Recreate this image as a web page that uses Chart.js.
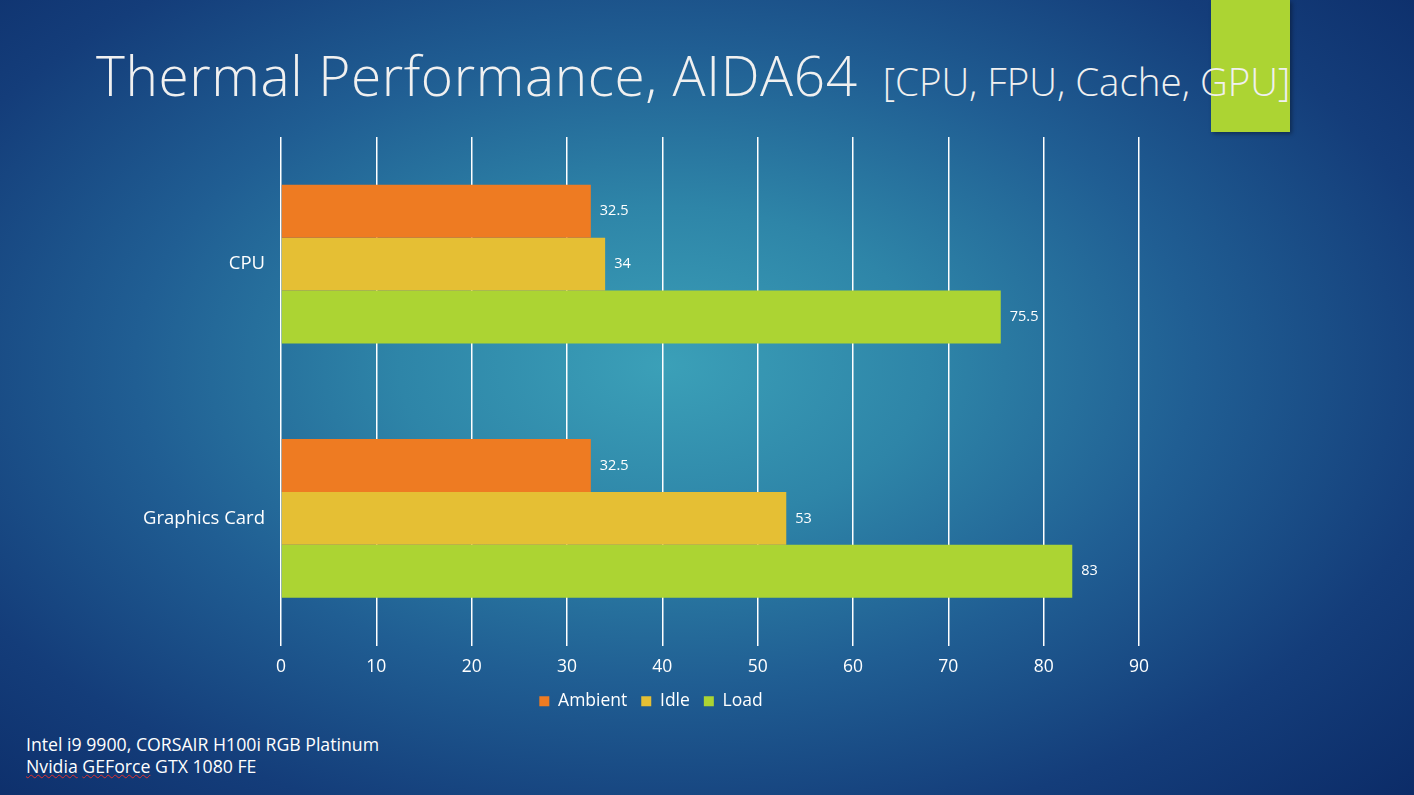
<!DOCTYPE html>
<html>
<head>
<meta charset="utf-8">
<script src="https://cdn.jsdelivr.net/npm/chart.js@4"></script>
<style>
  html, body { margin:0; padding:0; width:1414px; height:795px; overflow:hidden; }
  body {
    position:relative;
    font-family:"Open Sans", "DejaVu Sans", sans-serif;
    background: radial-gradient(ellipse 75% 80% at 47% 46%, #3ba0b8 0%, #2e85a8 25%, #205e93 50%, #143d7a 75%, #0b2a66 100%);
  }
  #accent { position:absolute; left:1211px; top:0; width:79px; height:132px; background:#acd433; box-shadow:2px 2px 4px rgba(0,0,0,0.35); }
  #title { position:absolute; left:96px; top:37px; color:#f0f0f0; white-space:nowrap; font-weight:300; }
  #title .big { font-size:55px; letter-spacing:0.6px; }
  #title .small { font-size:38.5px; margin-left:25px; }
  #note { position:absolute; left:26px; top:733px; color:#ffffff; font-size:17.7px; line-height:22px; }
  .sp { text-decoration: underline wavy #e03030; text-decoration-thickness:1px; }
  #wrap { position:absolute; left:0; top:0; width:1302px; height:795px; }
</style>
</head>
<body>
<div id="accent"></div>
<div id="title"><span class="big">Thermal Performance, AIDA64</span><span class="small">[CPU, FPU, Cache, GPU]</span></div>
<div id="note">Intel i9 9900, CORSAIR H100i RGB Platinum<br><span class="sp">Nvidia</span> <span class="sp">GEForce</span> GTX 1080 FE</div>
<div id="wrap"><canvas id="c" width="1302" height="795"></canvas></div>
<script>
const categories = ["CPU", "Graphics Card"];
const ambient = [32.5, 32.5];
const idle = [34, 53];
const load = [75.5, 83];
const seriesNames = ["Ambient", "Idle", "Load"];
const colors = ["#ee7b22", "#e5bf34", "#acd433"];

const valueLabels = {
  id: "valueLabels",
  afterDatasetsDraw(chart) {
    const ctx = chart.ctx;
    ctx.save();
    ctx.fillStyle = "#ffffff";
    ctx.font = '14.5px "Open Sans", sans-serif';
    ctx.textBaseline = "middle";
    ctx.textAlign = "left";
    chart.data.datasets.forEach((ds, i) => {
      const meta = chart.getDatasetMeta(i);
      meta.data.forEach((bar, j) => {
        ctx.fillText(String(ds.data[j]), bar.x + 9, bar.y);
      });
    });
    ctx.restore();
  }
};

// centre the legend under the whole chart frame rather than under the canvas box
const legendShift = {
  id: "legendShift",
  afterLayout(chart) {
    const lg = chart.legend;
    if (!lg) return;
    lg.left = 163;
    lg.right = chart.chartArea.right;
    lg.width = lg.right - lg.left;
  }
};

Chart.defaults.font.family = '"Open Sans", sans-serif';
Chart.defaults.color = "#ffffff";

new Chart(document.getElementById("c"), {
  type: "bar",
  data: {
    labels: categories,
    datasets: [
      { label: seriesNames[0], data: ambient, backgroundColor: colors[0] },
      { label: seriesNames[1], data: idle, backgroundColor: colors[1] },
      { label: seriesNames[2], data: load, backgroundColor: colors[2] }
    ]
  },
  options: {
    indexAxis: "y",
    responsive: false,
    animation: false,
    datasets: { bar: { categoryPercentage: 0.625, barPercentage: 1.0 } },
    layout: { padding: { top: 137, right: 163, bottom: 75, left: 0 } },
    scales: {
      x: {
        min: 0, max: 90,
        ticks: { stepSize: 10, padding: 11, font: { size: 17.5 }, color: "#ffffff" },
        grid: { color: "#ffffff", lineWidth: 1.5, drawTicks: false },
        border: { display: false },
        afterFit(scale) { scale.height = 33; }
      },
      y: {
        ticks: { padding: 16, font: { size: 18.5 }, color: "#ffffff" },
        grid: { display: false, drawTicks: false },
        border: { display: false },
        afterFit(scale) { scale.width = 281; }
      }
    },
    plugins: {
      legend: {
        position: "bottom",
        labels: { boxWidth: 10, boxHeight: 10, font: { size: 17.5 }, color: "#ffffff", padding: 14 }
      },
      tooltip: { enabled: false }
    }
  },
  plugins: [valueLabels, legendShift]
});
</script>
</body>
</html>
